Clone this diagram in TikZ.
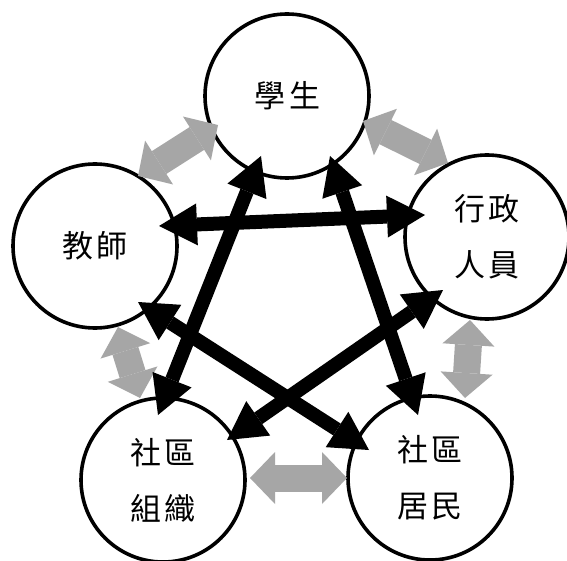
\documentclass[tikz,border=0pt]{standalone}
\usepackage{fontspec}
\newfontfamily\cjk{Noto Sans CJK TC}
\usetikzlibrary{arrows.meta,calc}
\begin{document}
\begin{tikzpicture}[x=1pt,y=-1pt,
  person/.style={circle,draw=black,line width=3.6pt,minimum size=164pt,inner sep=0pt,outer sep=0pt,align=center,font=\cjk\fontsize{31}{56}\selectfont},
  blk/.style={line width=14pt,draw=black,{Triangle[length=38pt,width=42pt,line width=0pt]}-{Triangle[length=38pt,width=42pt,line width=0pt]}},
  gry/.style={line width=27pt,draw=black!35,{Triangle[length=25pt,width=52pt,line width=0pt]}-{Triangle[length=25pt,width=52pt,line width=0pt]}}]
\fill[white] (0,0) rectangle (567,561);
\useasboundingbox (0,0) rectangle (567,561);
\node[person] (A) at (287,96) {學\hspace{4pt}生};
\node[person] (B) at (95,246) {教\hspace{3pt}師};
\node[person] (C) at (487,237) {行\hspace{3pt}政\\人\hspace{3pt}員};
\node[person] (D) at (163,480) {社\hspace{3pt}區\\組\hspace{3pt}織};
\node[person] (E) at (430,478) {社\hspace{3pt}區\\居\hspace{3pt}民};
% gray arrows between neighbours
\draw[gry] ($(B)+(43,-70)$) -- ($(A)+(-69,29)$);
\draw[gry] ($(A)+(76,25)$) -- ($(C)+(-39,-74)$);
\draw[gry] ($(B)+(23,81)$) -- ($(D)+(-23,-82)$);
\draw[gry] ($(C)+(-17,83)$) -- ($(E)+(35,-80)$);
\draw[gry] ($(D)+(87,-2)$) -- ($(E)+(-83,0)$);
% black star arrows
\draw[blk] ($(B)+(64,-20)$) -- ($(C)+(-62,-22)$);
\draw[blk] ($(A)+(-26,60)$) -- ($(D)+(-5,-65)$);
\draw[blk] ($(A)+(43,60)$) -- ($(E)+(-12,-63)$);
\draw[blk] ($(B)+(43,56)$) -- ($(E)+(-61,-28)$);
\draw[blk] ($(D)+(64,-40)$) -- ($(C)+(-44,53)$);
\end{tikzpicture}
\end{document}
